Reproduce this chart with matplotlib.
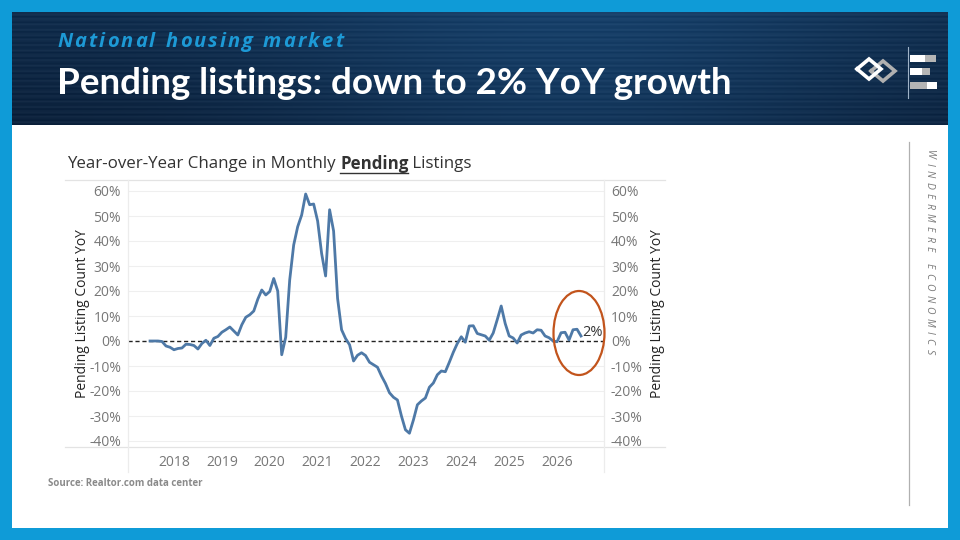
import numpy as np
import matplotlib
matplotlib.use("Agg")
import matplotlib.pyplot as plt
from matplotlib.patches import Rectangle, Ellipse
from matplotlib.lines import Line2D

# ---------------- data ----------------
start_year = 2017.5  # July 2017
yoy_pct = [0.0, 0.0, 0.0, -0.2, -2.0, -2.5, -3.5, -3.0, -2.8, -1.3, -1.4, -1.8,
           -3.2, -1.0, 0.3, -1.8, 1.1, 1.8, 3.5, 4.5, 5.6, 4.0, 2.4, 6.5,
           9.5, 10.5, 12.0, 16.7, 20.4, 18.4, 19.8, 25.0, 20.0, -5.5, 1.5, 24.4,
           38.4, 45.7, 50.4, 58.8, 54.5, 54.8, 48.0, 35.0, 26.0, 52.5, 44.0, 17.0,
           4.5, 1.0, -1.5, -8.0, -5.7, -4.7, -5.8, -8.5, -9.5, -10.5, -14.0, -17.0,
           -20.7, -22.5, -23.6, -30.0, -35.5, -36.9, -31.6, -25.5, -24.0, -22.8, -18.5, -16.8,
           -13.5, -12.0, -12.3, -8.5, -4.5, -1.0, 1.7, -0.5, 6.0, 6.1, 3.0, 2.5,
           2.0, 0.3, 3.2, 8.5, 14.0, 7.0, 2.0, 1.2, -0.8, 2.4, 3.2, 3.7,
           3.2, 4.5, 4.3, 2.0, 1.3, 0.0, -0.3, 3.3, 3.5, 0.4, 4.5, 4.7, 2.0]
year_ticks = [2018, 2019, 2020, 2021, 2022, 2023, 2024, 2025, 2026]
y_ticks = [-40, -30, -20, -10, 0, 10, 20, 30, 40, 50, 60]
end_label = "2%"

x_vals = [start_year + i / 12 for i in range(len(yoy_pct))]

W, H = 960, 540
def fx(x): return x / W
def fy(y): return 1 - y / H

fig = plt.figure(figsize=(9.6, 5.4), dpi=100)
fig.patch.set_facecolor("#0f9bd7")
renderer = fig.canvas.get_renderer()

def fit_text(x, y, s, target_w, fs0, **kw):
    t = fig.text(fx(x), fy(y), s, fontsize=fs0, **kw)
    w = t.get_window_extent(renderer=renderer).width
    t.set_fontsize(fs0 * target_w / w)
    return t

def tracked_text(x0, x1, y, s, **kw):
    ws = []
    for ch in s:
        t = fig.text(0, 0, ch if ch != " " else "n", **kw)
        w = t.get_window_extent(renderer=renderer).width
        ws.append(w if ch != " " else w * 0.55)
        t.remove()
    extra = ((x1 - x0) - sum(ws)) / (len(s) - 1)
    cur = x0
    for ch, w in zip(s, ws):
        if ch != " ":
            fig.text(fx(cur), fy(y), ch, ha="left", va="center", **kw)
        cur += w + extra

def tracked_vertical(x, y0, y1, s, **kw):
    hs = []
    for ch in s:
        t = fig.text(0, 0, ch if ch != " " else "n", rotation=-90, **kw)
        h = t.get_window_extent(renderer=renderer).height
        hs.append(h if ch != " " else h * 0.5)
        t.remove()
    extra = ((y1 - y0) - sum(hs)) / (len(s) - 1)
    cur = y0
    for ch, h in zip(s, hs):
        if ch != " ":
            fig.text(fx(x), fy(cur + h / 2), ch, rotation=-90, ha="center", va="center",
                     rotation_mode="anchor", **kw)
        cur += h + extra

# white panel
fig.patches.append(Rectangle((fx(12), fy(528)), (948 - 12) / W, (528 - 12) / H,
                             transform=fig.transFigure, facecolor="white", edgecolor="none", zorder=-5))

# header gradient
hax = fig.add_axes([fx(12), fy(125), (948 - 12) / W, (125 - 12) / H])
hax.set_zorder(-2)
gx = np.linspace(0, 1, 400)
gy = np.linspace(0, 1, 60)
GX, GY = np.meshgrid(gx, gy)
c_dark = np.array([0.05, 0.13, 0.23])
c_light = np.array([0.10, 0.27, 0.44])
t = np.clip(0.3 + 0.6 * np.exp(-((GX - 0.6) ** 2) / 0.12) - 0.3 * GY, 0, 1)
img = c_dark[None, None, :] * (1 - t[..., None]) + c_light[None, None, :] * t[..., None]
stripes = 0.025 * np.sin(np.arange(60) * 2.3)[:, None, None]
img = np.clip(img + stripes, 0, 1)
hax.imshow(img, aspect="auto", extent=[0, 1, 0, 1], origin="upper")
hax.set_axis_off()

tracked_text(57, 343, 42, "National housing market", color="#1d9ad6", fontsize=14.5,
             fontstyle="italic", fontweight="bold", family="Open Sans")
fit_text(57, 83, "Pending listings: down to 2% YoY growth", 675, 26, color="white",
         family="Lato", fontweight="bold", va="center", ha="left")

# logo
fig.add_artist(Line2D([fx(908), fx(908)], [fy(47), fy(98)], color="#9fb3c8", lw=0.8, transform=fig.transFigure))
for (y0, y1, xw, xg_end, white_first) in [(55, 62, 925, 936, True), (68, 75, 922, 930, True), (82, 89, 927, 937, False)]:
    c1, c2 = ("white", "#b5b5b5") if white_first else ("#b5b5b5", "white")
    fig.patches.append(Rectangle((fx(910), fy(y1)), (xw - 910) / W, (y1 - y0) / H, transform=fig.transFigure,
                                 facecolor=c1, edgecolor="none"))
    fig.patches.append(Rectangle((fx(xw), fy(y1)), (xg_end - xw) / W, (y1 - y0) / H, transform=fig.transFigure,
                                 facecolor=c2, edgecolor="none"))

def diamond(cx, cy, hw, hh, color):
    xs = [cx - hw, cx, cx + hw, cx, cx - hw]
    ys = [cy, cy - hh, cy, cy + hh, cy]
    fig.add_artist(Line2D([fx(v) for v in xs], [fy(v) for v in ys], color=color, lw=2.6,
                          transform=fig.transFigure, solid_joinstyle="miter"))
diamond(883, 71, 12, 10, "#b0b0b0")
diamond(869, 69, 12, 10, "white")

# chart title (auto-fit to width 404 px)
parts = [("Year-over-Year Change in Monthly ", "normal"), ("Pending", "bold"), (" Listings", "normal")]
fs = 11.5
tot = 0
for txt, wt in parts:
    tt = fig.text(0, 0, txt, fontsize=fs, fontweight=wt, family="Open Sans")
    tot += tt.get_window_extent(renderer=renderer).width
    tt.remove()
fs = fs * 404 / tot
cur = fx(67)
for txt, wt in parts:
    t_obj = fig.text(cur, fy(164), txt, fontsize=fs, color="#333333", fontweight=wt,
                     family="Open Sans", va="center", ha="left")
    bb = t_obj.get_window_extent(renderer=renderer)
    if wt == "bold":
        fig.add_artist(Line2D([bb.x0 / W, bb.x1 / W], [fy(172.5), fy(172.5)], color="#333333", lw=1.0,
                              transform=fig.transFigure))
    cur = bb.x1 / W

# separator lines
for yy in (180, 447):
    fig.add_artist(Line2D([fx(65), fx(665)], [fy(yy), fy(yy)], color="#e3e3e3", lw=0.9, transform=fig.transFigure))
for xx in (128, 604):
    fig.add_artist(Line2D([fx(xx), fx(xx)], [fy(180), fy(472)], color="#ececec", lw=0.9, transform=fig.transFigure))

# main axes
ax = fig.add_axes([fx(128), fy(447), (604 - 128) / W, (447 - 180) / H])
ax.set_facecolor("none")
ax.set_xlim(2017.04, 2026.98)
ax.set_ylim(-42.4, 64.4)
for yv in y_ticks:
    if yv != 0:
        ax.axhline(yv, color="#efefef", lw=0.8, zorder=0)
ax.axhline(0, color="#222222", lw=1.0, ls=(0, (3, 2)), zorder=2)
ax.plot(x_vals, yoy_pct, color="#4e79a7", lw=2.0, zorder=3, solid_joinstyle="round")
ax.text(x_vals[-1] + 0.03, yoy_pct[-1] + 1.5, end_label, fontsize=10.5, color="#333333",
        family="Open Sans", va="center", ha="left")

for s in ax.spines.values():
    s.set_visible(False)
ax.set_yticks(y_ticks)
ax.set_yticklabels([f"{v}%" for v in y_ticks], family="Open Sans", fontsize=10, color="#777777")
ax.tick_params(axis="y", length=0, pad=5)
ax.set_xticks(year_ticks)
ax.set_xticklabels([str(v) for v in year_ticks], family="Open Sans", fontsize=10, color="#777777")
ax.tick_params(axis="x", length=0, pad=6)
ax.set_ylabel("Pending Listing Count YoY", family="Open Sans", fontsize=10, color="#222222", labelpad=-1)

ax2 = ax.twinx()
ax2.set_ylim(ax.get_ylim())
for s in ax2.spines.values():
    s.set_visible(False)
ax2.set_yticks(y_ticks)
ax2.set_yticklabels([f"{v}%" for v in y_ticks], family="Open Sans", fontsize=10, color="#777777")
ax2.tick_params(axis="y", length=0, pad=5)
ax2.set_ylabel("Pending Listing Count YoY", family="Open Sans", fontsize=10, color="#222222",
               rotation=90, labelpad=5)

# highlight ellipse
fig.patches.append(Ellipse((fx(579), fy(333)), 51 / W, 84 / H, transform=fig.transFigure,
                           facecolor="none", edgecolor="#c2541c", lw=1.6, zorder=5))

# source
fig.text(fx(48), fy(484), "Source: Realtor.com data center", fontsize=7, color="#8a8a8a",
         fontweight="bold", family="Open Sans", va="center", ha="left")

# right side branding
fig.add_artist(Line2D([fx(909), fx(909)], [fy(142), fy(505)], color="#b0b0b0", lw=0.9, transform=fig.transFigure))
tracked_vertical(929, 150, 354, "WINDERMERE ECONOMICS", fontsize=7.5, color="#7a7a7a",
                 fontstyle="italic", family="Open Sans")

fig.savefig("out.png", dpi=100)
